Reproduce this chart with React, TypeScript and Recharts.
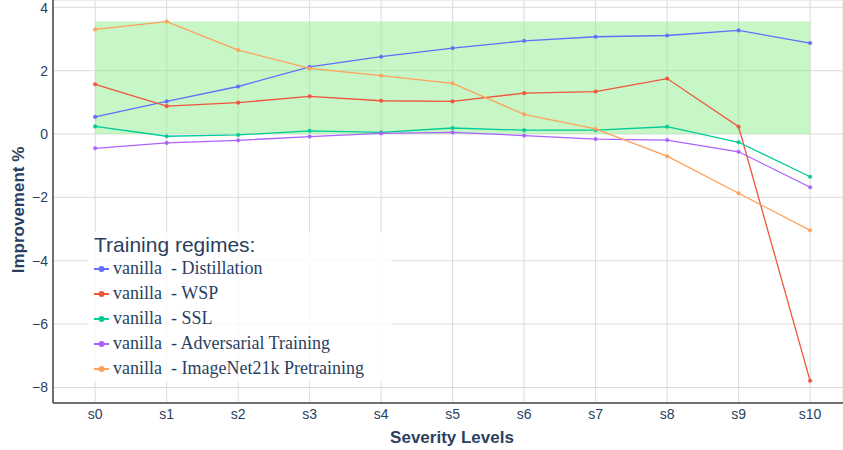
import React from "react";
import {
  LineChart,
  Line,
  XAxis,
  YAxis,
  CartesianGrid,
  ReferenceArea,
} from "recharts";

const categories = ["s0", "s1", "s2", "s3", "s4", "s5", "s6", "s7", "s8", "s9", "s10"];
const distillation = [0.54, 1.03, 1.5, 2.12, 2.44, 2.71, 2.94, 3.07, 3.11, 3.27, 2.87];
const wsp = [1.57, 0.88, 0.99, 1.19, 1.05, 1.03, 1.29, 1.34, 1.75, 0.23, -7.79];
const ssl = [0.24, -0.07, -0.03, 0.1, 0.05, 0.19, 0.12, 0.12, 0.23, -0.26, -1.35];
const adversarial = [-0.45, -0.28, -0.2, -0.08, 0.02, 0.05, -0.05, -0.16, -0.19, -0.56, -1.68];
const imagenet21k = [3.3, 3.55, 2.65, 2.07, 1.84, 1.6, 0.62, 0.16, -0.7, -1.87, -3.04];
const yTicks = [-8, -6, -4, -2, 0, 2, 4];

const TEXT = "#2a3f5f";
const GRID = "#dcdcdc";
const AXIS = "#444";
const SANS = "'Liberation Sans', Arial, sans-serif";
const SERIF = "'Liberation Serif', 'Times New Roman', serif";

const SERIES = [
  { key: "distillation", name: "vanilla  - Distillation", color: "#636efa", values: distillation },
  { key: "wsp", name: "vanilla  - WSP", color: "#EF553B", values: wsp },
  { key: "ssl", name: "vanilla  - SSL", color: "#00cc96", values: ssl },
  { key: "adversarial", name: "vanilla  - Adversarial Training", color: "#ab63fa", values: adversarial },
  { key: "imagenet21k", name: "vanilla  - ImageNet21k Pretraining", color: "#FFA15A", values: imagenet21k },
];

const rows = categories.map((c, i) => {
  const row: Record<string, number | string> = { x: i, label: c };
  SERIES.forEach((s) => (row[s.key] = s.values[i]));
  return row;
});

// shaded band: from 0 up to the best value any regime reaches
const bandTop = Math.max(...SERIES.flatMap((s) => s.values));

const fmtY = (v: number) => (v < 0 ? "\u2212" + Math.abs(v) : String(v));

const tickStyle = { fill: TEXT, fontSize: 14, fontFamily: SANS };
const titleStyle = { fill: TEXT, fontSize: 17, fontWeight: "bold" as const, fontFamily: SANS };

// legend sits over the plot, so it is drawn outside recharts' layout
const LegendBox = () => (
  <div
    style={{
      position: "absolute",
      left: 88,
      top: 232,
      width: 304,
      height: 150,
      boxSizing: "border-box",
      background: "rgba(255,255,255,0.8)",
      padding: "0 0 0 6px",
    }}
  >
    <div style={{ fontFamily: SANS, fontSize: 21, color: TEXT, lineHeight: "22px", marginTop: 2 }}>
      Training regimes:
    </div>
    {SERIES.map((s) => (
      <div key={s.key} style={{ display: "flex", alignItems: "center", height: 25 }}>
        <svg width={18} height={10} style={{ marginRight: 1 }}>
          <line x1={0} y1={5} x2={15} y2={5} stroke={s.color} strokeWidth={2} />
          <circle cx={7.5} cy={5} r={3} fill={s.color} />
        </svg>
        <span style={{ fontFamily: SERIF, fontSize: 18, color: TEXT, whiteSpace: "pre" }}>{s.name}</span>
      </div>
    ))}
  </div>
);

export default function App() {
  return (
    <div style={{ width: 843, height: 450, position: "relative", background: "#fff", overflow: "hidden" }}>
      <style>{`body{margin:0}`}</style>
      <LineChart width={843} height={450} data={rows} margin={{ top: 0, right: 0, bottom: 0, left: 0 }}>
        <CartesianGrid stroke={GRID} strokeWidth={1} />
        <ReferenceArea x1={0} x2={10} y1={0} y2={bandTop} fill="#90EE90" fillOpacity={0.5} stroke="none" ifOverflow="hidden" />
        <XAxis
          dataKey="x"
          type="number"
          domain={[-0.59, 10.46]}
          ticks={categories.map((_, i) => i)}
          tickFormatter={(v: number) => categories[v]}
          allowDataOverflow
          height={47}
          tickLine={false}
          tickSize={0}
          tickMargin={6}
          axisLine={{ stroke: AXIS, strokeWidth: 1.5 }}
          tick={tickStyle}
          label={{
            content: () => (
              <text x={452} y={443} textAnchor="middle" style={titleStyle}>
                Severity Levels
              </text>
            ),
          }}
        />
        <YAxis
          type="number"
          domain={[-8.49, 4.23]}
          ticks={yTicks}
          tickFormatter={fmtY}
          allowDataOverflow
          width={53}
          tickLine={false}
          tickSize={0}
          tickMargin={5}
          axisLine={{ stroke: AXIS, strokeWidth: 1.5 }}
          tick={tickStyle}
          label={{
            content: () => (
              <text x={24} y={210} textAnchor="middle" transform="rotate(-90 24 210)" style={titleStyle}>
                Improvement %
              </text>
            ),
          }}
        />
        {SERIES.map((s) => (
          <Line
            key={s.key}
            dataKey={s.key}
            name={s.name}
            type="linear"
            stroke={s.color}
            strokeWidth={1.3}
            dot={{ r: 1.8, fill: s.color, stroke: s.color, strokeWidth: 0.5 }}
            isAnimationActive={false}
          />
        ))}
      </LineChart>
      <LegendBox />
    </div>
  );
}
